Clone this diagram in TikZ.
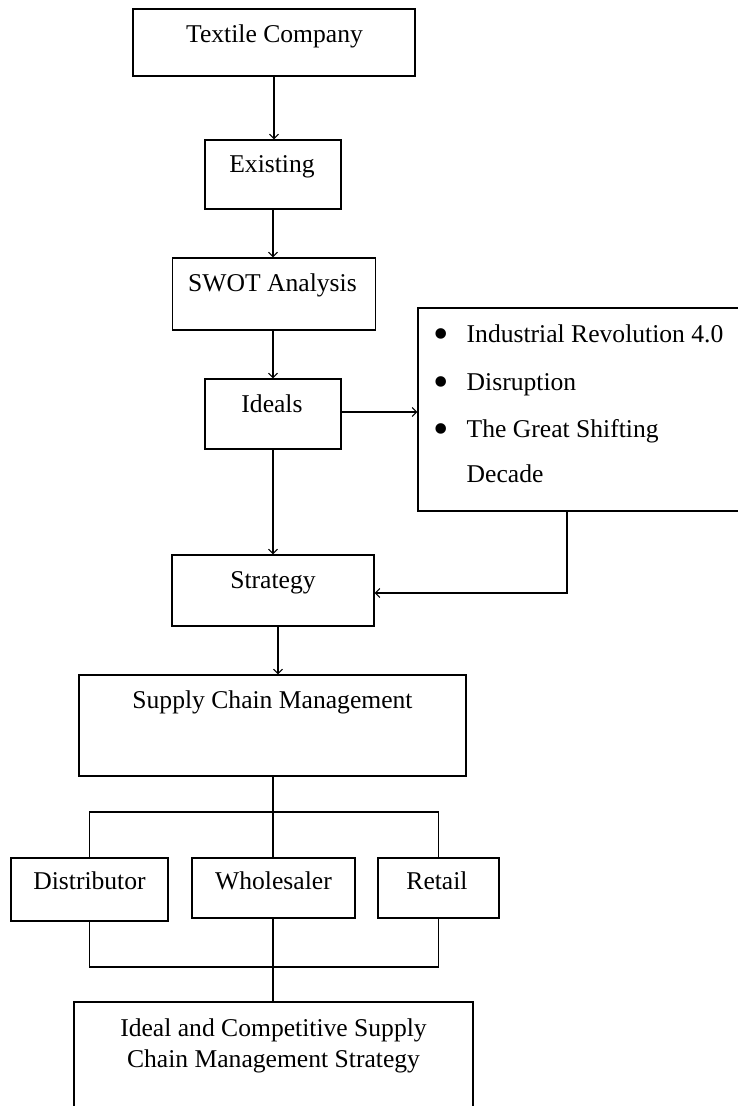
\documentclass[tikz,border=0pt]{standalone}
\usepackage{fontspec}
\setmainfont{Liberation Serif}
\usetikzlibrary{arrows.meta,calc}
\begin{document}
\begin{tikzpicture}[x=1pt,y=-1pt,
  box/.style={draw=black, line width=1.3pt, rectangle, inner sep=0pt},
  txt/.style={anchor=base, inner sep=0pt, font=\fontsize{25.6}{30}\selectfont},
  ltxt/.style={anchor=base west, inner sep=0pt, font=\fontsize{25.6}{30}\selectfont},
  bul/.style={anchor=center, inner sep=0pt, font=\fontsize{44}{48}\selectfont},
  conn/.style={line width=1.3pt, draw=black},
  arr/.style={conn, -{Straight Barb[length=4.5pt,width=9pt,line width=1pt]}}]
\useasboundingbox (0,0) rectangle (737,1106);
\fill[white] (0,0) rectangle (737,1106);

% boxes
\node[box, minimum width=282, minimum height=67] (tc) at (274,42.5) {};
\node[box, minimum width=136, minimum height=69] (ex) at (273,174.5) {};
\node[box, minimum width=203, minimum height=72] (sw) at (274,294) {};
\node[box, minimum width=136, minimum height=70] (id) at (273,414) {};
\node[box, minimum width=322, minimum height=203] (bl) at (579,409.5) {};
\node[box, minimum width=202, minimum height=71] (st) at (273,590.5) {};
\node[box, minimum width=387, minimum height=101] (scm) at (272.5,725.5) {};
\node[box, minimum width=157, minimum height=63] (di) at (89.5,889.5) {};
\node[box, minimum width=163, minimum height=60] (wh) at (273.5,888) {};
\node[box, minimum width=121, minimum height=60] (re) at (438.5,888) {};
\node[box, minimum width=399, minimum height=128] (fi) at (273.5,1066) {};

% texts
\node[txt] (tct) at (274.5,42) {Textile Company};
\node[txt] (ext) at (272,172) {Existing};
\node[txt] (swt) at (272.5,291) {SWOT Analysis};
\node[txt] (idt) at (272,412) {Ideals};
\node[txt] (stt) at (273,588) {Strategy};
\node[txt] (scmt) at (272.5,708) {Supply Chain Management};
\node[txt] (dit) at (89.5,889) {Distributor};
\node[txt] (wht) at (273.5,889) {Wholesaler};
\node[txt] (ret) at (437,889) {Retail};
\node[txt] (fit1) at (273.5,1036) {Ideal and Competitive Supply};
\node[txt] (fit2) at (273.5,1067) {Chain Management Strategy};

% bullet list
\node[bul] (b1) at (441,339) {\textbullet};
\node[bul] (b2) at (441,387) {\textbullet};
\node[bul] (b3) at (441,434) {\textbullet};
\node[ltxt] (l1) at (466.5,342) {Industrial Revolution 4.0};
\node[ltxt] (l2) at (466.5,390) {Disruption};
\node[ltxt] (l3) at (466.5,437) {The Great Shifting};
\node[ltxt] (l4) at (466.5,482) {Decade};

% connectors
\draw[arr] (tc.south) -- (tc.south |- ex.north);
\draw[arr] (ex.south) -- (ex.south |- sw.north);
\draw[arr] (id.north |- sw.south) -- (id.north);
\draw[arr] ([yshift=2pt]id.east) -- ([yshift=2pt]id.east -| bl.west);
\draw[arr] (id.south) -- (id.south |- st.north);
\coordinate (bb) at (567,593);
\draw[arr] (bl.south -| bb) -- (bb) -- (st.east |- bb);
\draw[arr] ([xshift=5pt]st.south) -- ([xshift=5pt]st.south |- scm.north);

\coordinate (top) at (273,812);
\draw[conn] (scm.south -| top) -- (top);
\draw[conn] (di.north) |- (top) -| (re.north);
\draw[conn] (top) -- (wh.north -| top);

\coordinate (bot) at (273,967);
\draw[conn] (di.south) |- (bot) -| (re.south);
\draw[conn] (wh.south -| bot) -- (bot) -- (fi.north -| bot);
\end{tikzpicture}
\end{document}
